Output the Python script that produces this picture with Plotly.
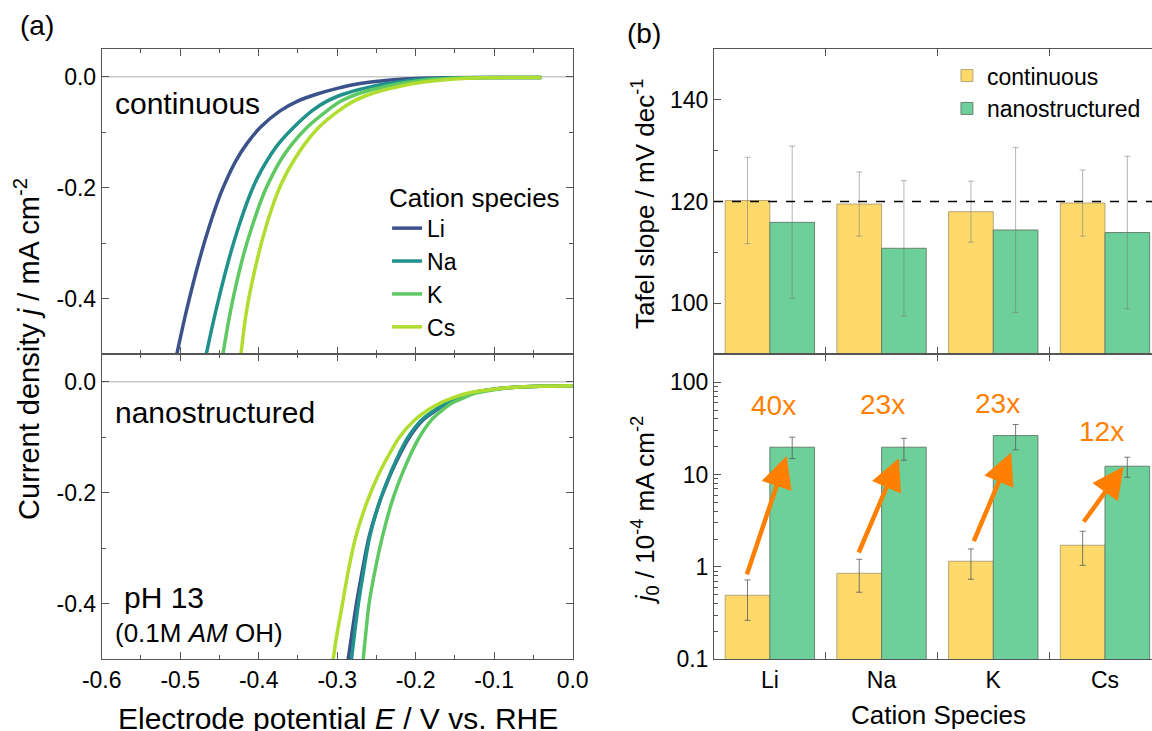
import numpy as np
import plotly.graph_objects as go

# ---------------- data: panel (a) LSV curves ----------------
CATIONS = ["Li", "Na", "K", "Cs"]
LINE_COLORS = ["#3b528b", "#21918c", "#5ec962", "#b0dd2f"]

# continuous electrode: current density j (mA cm-2) shared sampling levels, potential E (V vs RHE) per cation
cont_j = [-0.5000, -0.4209, -0.3309, -0.2710, -0.2110, -0.1811, -0.1511, -0.1211, -0.0911,
          -0.0612, -0.0444, -0.0312, -0.0210, -0.0132, -0.0078, -0.0042, -0.0018, -0.0015, -0.0015]
cont_E_Li = [-0.5043, -0.4919, -0.4757, -0.4632, -0.4485, -0.4395, -0.4289, -0.4153, -0.3978,
             -0.3723, -0.3510, -0.3255, -0.2999, -0.2744, -0.2446, -0.2148, -0.1637, -0.080, -0.040]
cont_E_Na = [-0.4668, -0.4544, -0.4383, -0.4257, -0.4106, -0.4012, -0.3893, -0.3748, -0.3553,
             -0.3318, -0.3135, -0.2914, -0.2659, -0.2403, -0.2126, -0.1892, -0.1381, -0.075, -0.040]
cont_E_K = [-0.4455, -0.4357, -0.4212, -0.4087, -0.3936, -0.3838, -0.3723, -0.3574, -0.3382,
            -0.3127, -0.2957, -0.2744, -0.2488, -0.2233, -0.1977, -0.1722, -0.1254, -0.070, -0.040]
cont_E_Cs = [-0.4225, -0.4153, -0.4021, -0.3908, -0.3765, -0.3672, -0.3553, -0.3412, -0.3233,
             -0.2978, -0.2795, -0.2573, -0.2318, -0.2063, -0.1786, -0.1509, -0.1169, -0.065, -0.040]

# nanostructured electrode
nano_j = [-0.5000, -0.4592, -0.3992, -0.3391, -0.2791, -0.2191, -0.1891, -0.1591, -0.1291,
          -0.0990, -0.0690, -0.0510, -0.0390, -0.0300, -0.0210, -0.0120, -0.0090, -0.0080, -0.0070]
nano_E_Li = [-0.2860, -0.2818, -0.2754, -0.2678, -0.2593, -0.2466, -0.2386, -0.2297, -0.2195,
             -0.2076, -0.1907, -0.1737, -0.1610, -0.1475, -0.1314, -0.0932, -0.060, -0.030, 0.000]
nano_E_Na = [-0.2818, -0.2784, -0.2729, -0.2661, -0.2585, -0.2466, -0.2390, -0.2305, -0.2208,
             -0.2093, -0.1924, -0.1758, -0.1627, -0.1487, -0.1322, -0.0932, -0.060, -0.030, 0.000]
nano_E_K = [-0.2669, -0.2640, -0.2593, -0.2517, -0.2424, -0.2309, -0.2237, -0.2153, -0.2059,
            -0.1949, -0.1801, -0.1661, -0.1547, -0.1407, -0.1250, -0.0890, -0.060, -0.030, 0.000]
nano_E_Cs = [-0.3051, -0.3008, -0.2932, -0.2856, -0.2763, -0.2627, -0.2542, -0.2445, -0.2331,
             -0.2203, -0.2013, -0.1843, -0.1695, -0.1547, -0.1356, -0.0932, -0.060, -0.030, 0.000]

# ---------------- data: panel (b) bars ----------------
SAMPLES = ["continuous", "nanostructured"]
BAR_COLORS = ["#fdd96c", "#6dcf99"]

tafel_cont = [120.2, 119.5, 118.0, 119.7]
tafel_cont_err = [8.5, 6.3, 6.0, 6.5]
tafel_nano = [115.9, 110.8, 114.4, 113.9]
tafel_nano_err = [15.0, 13.3, 16.2, 15.0]
TAFEL_REF = 120

j0_cont = [0.493, 0.854, 1.152, 1.717]
j0_cont_hi = [0.723, 1.21, 1.566, 2.43]
j0_cont_lo = [0.264, 0.532, 0.735, 1.04]
j0_nano = [19.77, 19.77, 26.45, 12.31]
j0_nano_hi = [25.4, 24.7, 34.8, 15.4]
j0_nano_lo = [14.9, 14.3, 18.5, 9.35]

ENH_LABELS = ["40x", "23x", "23x", "12x"]
ENH_LABEL_X = [0.03, 1.01, 2.04, 2.97]
ENH_LABEL_Y = [55.4, 56.8, 59.3, 29.2]
ARROW_TAIL_X = [-0.21, 0.79, 1.82, 2.80]
ARROW_TAIL_Y = [0.80, 1.38, 1.83, 2.97]
ARROW_HEAD_X = [0.15, 1.155, 2.16, 3.167]
ARROW_HEAD_Y = [15.9, 15.0, 17.3, 12.2]

E_TICKS = [-0.6, -0.5, -0.4, -0.3, -0.2, -0.1, 0.0]
E_TICKTEXT = ["-0.6", "-0.5", "-0.4", "-0.3", "-0.2", "-0.1", "0.0"]
E_MINOR = [-0.55, -0.45, -0.35, -0.25, -0.15, -0.05]
J_TICKS = [0.0, -0.2, -0.4]
J_TICKTEXT = ["0.0", "-0.2", "-0.4"]
J_MINOR = [-0.1, -0.3, -0.5]
TAFEL_TICKS = [100, 120, 140]
TAFEL_MINOR = [110, 130]
J0_TICKS = [0.1, 1, 10, 100]
J0_TICKTEXT = ["0.1", "1", "10", "100"]
J0_MINOR = [m * 10.0 ** e for e in (-1, 0, 1) for m in range(2, 10)] + [200]

FONT = "Liberation Sans, Arial, sans-serif"
AX = "#555555"
ORANGE = "#ff8000"

cont_E = [cont_E_Li, cont_E_Na, cont_E_K, cont_E_Cs]
nano_E = [nano_E_Li, nano_E_Na, nano_E_K, nano_E_Cs]

fig = go.Figure()

for i, c in enumerate(CATIONS):
    fig.add_trace(go.Scatter(x=cont_E[i], y=cont_j, mode="lines", name=c,
                             line=dict(color=LINE_COLORS[i], width=3.5, shape="spline", smoothing=1.0),
                             xaxis="x", yaxis="y", legend="legend"))
for i, c in enumerate(CATIONS):
    fig.add_trace(go.Scatter(x=nano_E[i], y=nano_j, mode="lines", name=c, showlegend=False,
                             line=dict(color=LINE_COLORS[i], width=3.5, shape="spline", smoothing=1.0),
                             xaxis="x2", yaxis="y2"))

xpos = np.arange(len(CATIONS))
cont_line = dict(color="rgba(170,155,110,0.85)", width=1)
nano_line = dict(color="rgba(95,115,100,0.85)", width=1)

fig.add_trace(go.Bar(x=xpos, y=tafel_cont, name=SAMPLES[0], xaxis="x3", yaxis="y3", legend="legend2",
                     marker=dict(color=BAR_COLORS[0], line=cont_line),
                     error_y=dict(type="data", array=tafel_cont_err, color="rgba(120,120,120,0.55)", thickness=1, width=3)))
fig.add_trace(go.Bar(x=xpos, y=tafel_nano, name=SAMPLES[1], xaxis="x3", yaxis="y3", legend="legend2",
                     marker=dict(color=BAR_COLORS[1], line=nano_line),
                     error_y=dict(type="data", array=tafel_nano_err, color="rgba(120,120,120,0.55)", thickness=1, width=3)))

fig.add_trace(go.Bar(x=xpos, y=j0_cont, name=SAMPLES[0], xaxis="x4", yaxis="y4", showlegend=False,
                     marker=dict(color=BAR_COLORS[0], line=cont_line),
                     error_y=dict(type="data", symmetric=False,
                                  array=[h - v for h, v in zip(j0_cont_hi, j0_cont)],
                                  arrayminus=[v - l for l, v in zip(j0_cont_lo, j0_cont)],
                                  color="rgba(90,90,90,0.8)", thickness=1, width=3)))
fig.add_trace(go.Bar(x=xpos, y=j0_nano, name=SAMPLES[1], xaxis="x4", yaxis="y4", showlegend=False,
                     marker=dict(color=BAR_COLORS[1], line=nano_line),
                     error_y=dict(type="data", symmetric=False,
                                  array=[h - v for h, v in zip(j0_nano_hi, j0_nano)],
                                  arrayminus=[v - l for l, v in zip(j0_nano_lo, j0_nano)],
                                  color="rgba(90,90,90,0.8)", thickness=1, width=3)))

XA = [0.0883, 0.4971]
XB = [0.6198, 1.0]
YT = [0.5157, 0.9330]
YB = [0.0981, 0.5157]

common = dict(showline=True, linecolor=AX, linewidth=1, ticks="inside", ticklen=7, tickwidth=1,
              tickcolor=AX, showgrid=False, zeroline=False, automargin=False,
              tickfont=dict(family=FONT, size=23, color="black"))
minor = dict(ticks="inside", ticklen=4, tickwidth=1, tickcolor=AX, showgrid=False)

fig.update_layout(
    template="none",
    width=1152, height=731, margin=dict(l=0, r=0, t=0, b=0, pad=0), autosize=False,
    paper_bgcolor="white", plot_bgcolor="white",
    font=dict(family=FONT, size=23, color="black"),
    barmode="group", bargap=0.2, bargroupgap=0.0,
    hovermode=False,
    xaxis=dict(domain=XA, anchor="y", range=[-0.6, 0.0], tickmode="array", tickvals=E_TICKS,
               ticktext=E_TICKTEXT, showticklabels=False, mirror="allticks",
               minor=dict(tickmode="array", tickvals=E_MINOR, **minor), **common),
    yaxis=dict(domain=YT, anchor="x", range=[-0.5, 0.05], tickmode="array", tickvals=J_TICKS,
               ticktext=J_TICKTEXT, mirror="allticks",
               minor=dict(tickmode="array", tickvals=J_MINOR, **minor), **common),
    xaxis2=dict(domain=XA, anchor="y2", range=[-0.6, 0.0], tickmode="array", tickvals=E_TICKS,
                ticktext=E_TICKTEXT, mirror="allticks",
                minor=dict(tickmode="array", tickvals=E_MINOR, **minor), **common),
    yaxis2=dict(domain=YB, anchor="x2", range=[-0.5, 0.05], tickmode="array", tickvals=J_TICKS,
                ticktext=J_TICKTEXT, mirror="allticks",
                minor=dict(tickmode="array", tickvals=J_MINOR, **minor), **common),
    xaxis3=dict(domain=XB, anchor="y3", range=[-0.5, 3.421], tickmode="array", tickvals=list(xpos),
                ticktext=CATIONS, showticklabels=False, mirror="allticks",
                minor=dict(tickmode="array", tickvals=[0.5, 1.5, 2.5], **{**minor, "ticklen": 7}),
                **{**common, "ticks": ""}),
    yaxis3=dict(domain=YT, anchor="x3", range=[90, 150], tickmode="array", tickvals=TAFEL_TICKS,
                minor=dict(tickmode="array", tickvals=TAFEL_MINOR, **minor), **common),
    xaxis4=dict(domain=XB, anchor="y4", range=[-0.5, 3.421], tickmode="array", tickvals=list(xpos),
                ticktext=CATIONS, mirror="allticks",
                minor=dict(tickmode="array", tickvals=[0.5, 1.5, 2.5], **{**minor, "ticklen": 7}),
                **{**common, "ticks": ""}),
    yaxis4=dict(domain=YB, anchor="x4", type="log", range=[-1, 2.305], tickmode="array",
                tickvals=J0_TICKS, ticktext=J0_TICKTEXT,
                minor=dict(tickmode="array", tickvals=J0_MINOR, **minor), **common),
    legend=dict(x=0.336, y=0.7635, xanchor="left", yanchor="top",
                bgcolor="rgba(0,0,0,0)", borderwidth=0,
                title=dict(text="Cation species", font=dict(family=FONT, size=26)),
                font=dict(family=FONT, size=23), itemwidth=30, tracegroupgap=0),
    legend2=dict(x=0.822, y=0.926, xanchor="left", yanchor="top",
                 bgcolor="rgba(0,0,0,0)", borderwidth=0,
                 font=dict(family=FONT, size=23), itemwidth=30),
)

# reference lines
fig.add_shape(type="line", xref="x domain", yref="y", x0=0, x1=1, y0=0, y1=0,
              line=dict(color="#c8c8c8", width=1.5), layer="below")
fig.add_shape(type="line", xref="x2 domain", yref="y2", x0=0, x1=1, y0=0, y1=0,
              line=dict(color="#c8c8c8", width=1.5), layer="below")
fig.add_shape(type="line", xref="x3 domain", yref="y3", x0=0, x1=1, y0=TAFEL_REF, y1=TAFEL_REF,
              line=dict(color="black", width=1.5, dash="dash"), layer="above")

def txt(x, y, s, size, xanchor="left", angle=0, color="black"):
    fig.add_annotation(x=x, y=y, xref="paper", yref="paper", text=s, showarrow=False,
                       xanchor=xanchor, yanchor="middle", textangle=angle,
                       font=dict(family=FONT, size=size, color=color))

txt(0.0321, 0.9658, "(a)", 28, "center")
txt(0.559, 0.9535, "(b)", 28, "center")
txt(0.098, 0.859, "continuous", 30)
txt(0.098, 0.436, "nanostructured", 30)
txt(0.1056, 0.182, "pH 13", 30)
txt(0.098, 0.134, "(0.1M <i>AM</i> OH)", 26)
txt(0.0234, 0.5226, "Current density <i>j</i> / mA cm<sup>-2</sup>", 29, "center", -90)
txt(0.293, 0.0174, "Electrode potential <i>E</i> / V vs. RHE", 30, "center")
txt(0.559, 0.721, "Tafel slope / mV dec<sup>-1</sup>", 26, "center", -90)
txt(0.560, 0.302, "<i>j</i><sub>0</sub> / 10<sup>-4</sup> mA cm<sup>-2</sup>", 26, "center", -90)
txt(0.8148, 0.0219, "Cation Species", 26, "center")

for i in range(len(CATIONS)):
    fig.add_annotation(x=ARROW_HEAD_X[i], y=np.log10(ARROW_HEAD_Y[i]), xref="x4", yref="y4",
                       ax=ARROW_TAIL_X[i], ay=np.log10(ARROW_TAIL_Y[i]), axref="x4", ayref="y4",
                       text="", showarrow=True, arrowhead=2, arrowsize=1.4, arrowwidth=4.5,
                       arrowcolor=ORANGE, standoff=0, startstandoff=0)
    fig.add_annotation(x=ENH_LABEL_X[i], y=np.log10(ENH_LABEL_Y[i]), xref="x4", yref="y4",
                       text=ENH_LABELS[i], showarrow=False,
                       font=dict(family=FONT, size=28, color=ORANGE))

fig.write_html("out.html", config={"displayModeBar": False},
               post_script="document.body.style.margin='0px';")
